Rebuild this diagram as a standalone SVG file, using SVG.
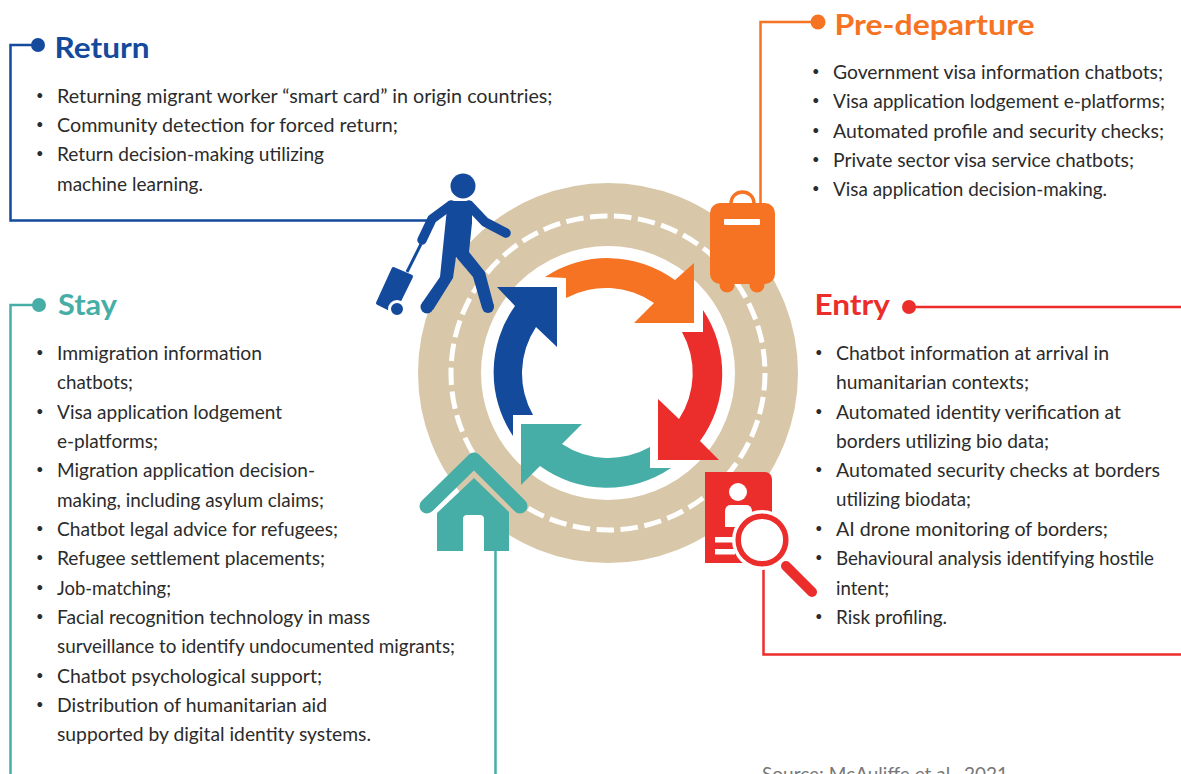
<svg xmlns="http://www.w3.org/2000/svg" width="1181" height="774" viewBox="0 0 1181 774">
<style>
text{font-family:"Lato","Open Sans",sans-serif;fill:#2b2b2b}
.b{font-size:19.3px}
.d{font-size:13px}
.t{font-size:29px;font-weight:700}
.c{fill:none;stroke-width:2.500}
.blue{fill:#134A9C}.org{fill:#F57323}.red{fill:#EB2E2C}.teal{fill:#47AEA7}
.sw{fill:none;stroke-linecap:round;stroke-linejoin:round}
</style>
<rect width="1181" height="774" fill="#fff"/>
<g id="road">
<circle cx="608" cy="373" r="158.500" fill="none" stroke="#D8C8A9" stroke-width="63"/>
<circle cx="608" cy="373" r="157" fill="none" stroke="#fff" stroke-width="5" stroke-dasharray="17.500 6.550"/>
</g>
<g id="connectors">
<path class="c" stroke="#134A9C" d="M38 45H10.500V220.500H432"/>
<circle class="blue" cx="38" cy="45" r="7"/>
<path class="c" stroke="#F57323" d="M818 22H760.500V205"/>
<circle class="org" cx="818" cy="22" r="7.500"/>
<path class="c" stroke="#EB2E2C" d="M909 307H1181"/>
<circle class="red" cx="909" cy="307" r="7"/>
<path class="c" stroke="#EB2E2C" d="M763.500 565V654.500H1181"/>
<path class="c" stroke="#47AEA7" d="M39 305H10.500V774"/>
<circle class="teal" cx="39" cy="305" r="7"/>
<path class="c" stroke="#47AEA7" d="M495.500 550V774"/>
</g>
<g id="cycle-arrows">
<path class="org" d="M545 277A114 114 0 0 1 675 280L694 263V323H634L654 303A84 84 0 0 0 566 298V278Z"/>
<path class="red" d="M703 310A114 114 0 0 1 700 441L719 460H658V399L679 419A84 84 0 0 0 682 332H703Z"/>
<path class="teal" d="M671 468A114 114 0 0 1 540 466L521 485V424H582L562 444A84 84 0 0 0 650 447V468Z"/>
<path class="blue" d="M513 436A114 114 0 0 1 515 306L497 287H557V347L536 327A84 84 0 0 0 533 415H513Z"/>
</g>
<g id="return">
<circle class="blue" cx="463" cy="186" r="12.500"/>
<path class="blue" d="M448 201H472L472 223L469 252L485 272L494 306L482 308L473 277L456 257L453 278L433 310L422 303L440 277L446 218Z"/>
<circle class="blue" cx="488" cy="307" r="6"/>
<circle class="blue" cx="427" cy="307" r="6.500"/>
<path class="sw" stroke="#134A9C" stroke-width="9.500" d="M451 205L432 219L422 240"/>
<path class="sw" stroke="#134A9C" stroke-width="9.500" d="M469 205L485 222L506 233"/>
<path fill="none" stroke="#134A9C" stroke-width="3" d="M421 244L407 272"/>
<path class="blue" stroke="#134A9C" stroke-width="4" stroke-linejoin="round" d="M393.500 269L411 276.500L394 311L378 303Z"/>
<circle class="blue" cx="397" cy="309" r="7.500" stroke="#fff" stroke-width="3"/>
<text class="t" x="54.500" y="57.500" textLength="95" lengthAdjust="spacingAndGlyphs" style="fill:#134A9C">Return</text>
<text class="d" x="36" y="99.500">•</text><text class="b" x="57" y="103" textLength="495.500" lengthAdjust="spacingAndGlyphs">Returning migrant worker “smart card” in origin countries;</text>
<text class="d" x="36" y="128.500">•</text><text class="b" x="57" y="132" textLength="341" lengthAdjust="spacingAndGlyphs">Community detection for forced return;</text>
<text class="d" x="36" y="157.500">•</text><text class="b" x="57" y="161" textLength="267" lengthAdjust="spacingAndGlyphs">Return decision-making utilizing</text>
<text class="b" x="57" y="191" textLength="146" lengthAdjust="spacingAndGlyphs">machine learning.</text>
</g>
<g id="pre-departure">
<path fill="none" stroke="#F57323" stroke-width="3.500" d="M731 204C731 188 754 188 754 204"/>
<rect class="org" x="710" y="203" width="65" height="81" rx="10"/>
<circle class="org" cx="727" cy="285" r="7.500"/>
<circle class="org" cx="757" cy="285" r="7.500"/>
<rect x="724" y="219" width="36" height="6" rx="1" fill="#fff"/>
<text class="t" x="834.500" y="34.500" textLength="200" lengthAdjust="spacingAndGlyphs" style="fill:#F57323">Pre-departure</text>
<text class="d" x="812" y="75.500">•</text><text class="b" x="833" y="79" textLength="330" lengthAdjust="spacingAndGlyphs">Government visa information chatbots;</text>
<text class="d" x="812" y="104.500">•</text><text class="b" x="833" y="108" textLength="332" lengthAdjust="spacingAndGlyphs">Visa application lodgement e-platforms;</text>
<text class="d" x="812" y="134.500">•</text><text class="b" x="833" y="138" textLength="331" lengthAdjust="spacingAndGlyphs">Automated profile and security checks;</text>
<text class="d" x="812" y="163.500">•</text><text class="b" x="833" y="167" textLength="301" lengthAdjust="spacingAndGlyphs">Private sector visa service chatbots;</text>
<text class="d" x="812" y="192.500">•</text><text class="b" x="833" y="196" textLength="274" lengthAdjust="spacingAndGlyphs">Visa application decision-making.</text>
</g>
<g id="entry">
<path class="red" d="M705 472H765A7 7 0 0 1 772 479V563H705Z"/>
<circle cx="738" cy="492" r="9" fill="#fff"/>
<path fill="#fff" d="M731 505H746Q752 505 752 512V527H725V512Q725 505 731 505Z"/>
<rect x="715" y="537" width="18" height="5.500" fill="#fff"/>
<rect x="715" y="549" width="20" height="5.500" fill="#fff"/>
<circle cx="762" cy="540" r="30" fill="#fff"/>
<path d="M772 510H786V530H772Z" fill="#fff"/>
<circle cx="762" cy="540" r="23.800" fill="#fff" stroke="#EB2E2C" stroke-width="5.500"/>
<path class="sw" stroke="#EB2E2C" stroke-width="10" d="M786 566L812 592"/>
<text class="t" x="814.500" y="314.500" textLength="75.500" lengthAdjust="spacingAndGlyphs" style="fill:#EB2E2C">Entry</text>
<text class="d" x="815" y="356.500">•</text><text class="b" x="836" y="360" textLength="273" lengthAdjust="spacingAndGlyphs">Chatbot information at arrival in</text>
<text class="b" x="836" y="389" textLength="193" lengthAdjust="spacingAndGlyphs">humanitarian contexts;</text>
<text class="d" x="815" y="415.500">•</text><text class="b" x="836" y="419" textLength="285" lengthAdjust="spacingAndGlyphs">Automated identity verification at</text>
<text class="b" x="836" y="448" textLength="213" lengthAdjust="spacingAndGlyphs">borders utilizing bio data;</text>
<text class="d" x="815" y="473.500">•</text><text class="b" x="836" y="477" textLength="324" lengthAdjust="spacingAndGlyphs">Automated security checks at borders</text>
<text class="b" x="836" y="506" textLength="135" lengthAdjust="spacingAndGlyphs">utilizing biodata;</text>
<text class="d" x="815" y="532.500">•</text><text class="b" x="836" y="536" textLength="272" lengthAdjust="spacingAndGlyphs">AI drone monitoring of borders;</text>
<text class="d" x="815" y="561.500">•</text><text class="b" x="836" y="565" textLength="318" lengthAdjust="spacingAndGlyphs">Behavioural analysis identifying hostile</text>
<text class="b" x="836" y="595" textLength="53" lengthAdjust="spacingAndGlyphs">intent;</text>
<text class="d" x="815" y="620.500">•</text><text class="b" x="836" y="624" textLength="111" lengthAdjust="spacingAndGlyphs">Risk profiling.</text>
</g>
<g id="stay">
<path class="sw" stroke="#47AEA7" stroke-width="15" d="M427 506L474 460L520 506"/>
<path class="teal" d="M437 513L474 478L509 512V551H484V519Q484 515 480 515H467Q463 515 463 519V551H437Z"/>
<text class="t" x="58" y="315" textLength="59" lengthAdjust="spacingAndGlyphs" style="fill:#47AEA7">Stay</text>
<text class="d" x="36" y="356.500">•</text><text class="b" x="57" y="360" textLength="205" lengthAdjust="spacingAndGlyphs">Immigration information</text>
<text class="b" x="57" y="389" textLength="76" lengthAdjust="spacingAndGlyphs">chatbots;</text>
<text class="d" x="36" y="415.500">•</text><text class="b" x="57" y="419" textLength="225" lengthAdjust="spacingAndGlyphs">Visa application lodgement</text>
<text class="b" x="57" y="448" textLength="101" lengthAdjust="spacingAndGlyphs">e-platforms;</text>
<text class="d" x="36" y="473.500">•</text><text class="b" x="57" y="477" textLength="258" lengthAdjust="spacingAndGlyphs">Migration application decision-</text>
<text class="b" x="57" y="507" textLength="267" lengthAdjust="spacingAndGlyphs">making, including asylum claims;</text>
<text class="d" x="36" y="532.500">•</text><text class="b" x="57" y="536" textLength="281" lengthAdjust="spacingAndGlyphs">Chatbot legal advice for refugees;</text>
<text class="d" x="36" y="561.500">•</text><text class="b" x="57" y="565" textLength="268" lengthAdjust="spacingAndGlyphs">Refugee settlement placements;</text>
<text class="d" x="36" y="591.500">•</text><text class="b" x="57" y="595" textLength="114" lengthAdjust="spacingAndGlyphs">Job-matching;</text>
<text class="d" x="36" y="620.500">•</text><text class="b" x="57" y="624" textLength="313" lengthAdjust="spacingAndGlyphs">Facial recognition technology in mass</text>
<text class="b" x="57" y="653" textLength="398" lengthAdjust="spacingAndGlyphs">surveillance to identify undocumented migrants;</text>
<text class="d" x="36" y="679.500">•</text><text class="b" x="57" y="683" textLength="265" lengthAdjust="spacingAndGlyphs">Chatbot psychological support;</text>
<text class="d" x="36" y="708.500">•</text><text class="b" x="57" y="712" textLength="270" lengthAdjust="spacingAndGlyphs">Distribution of humanitarian aid</text>
<text class="b" x="57" y="741" textLength="314" lengthAdjust="spacingAndGlyphs">supported by digital identity systems.</text>
</g>
<text class="b" x="762" y="780.500" textLength="246" lengthAdjust="spacingAndGlyphs" style="fill:#777">Source: McAuliffe et al., 2021</text>
</svg>
